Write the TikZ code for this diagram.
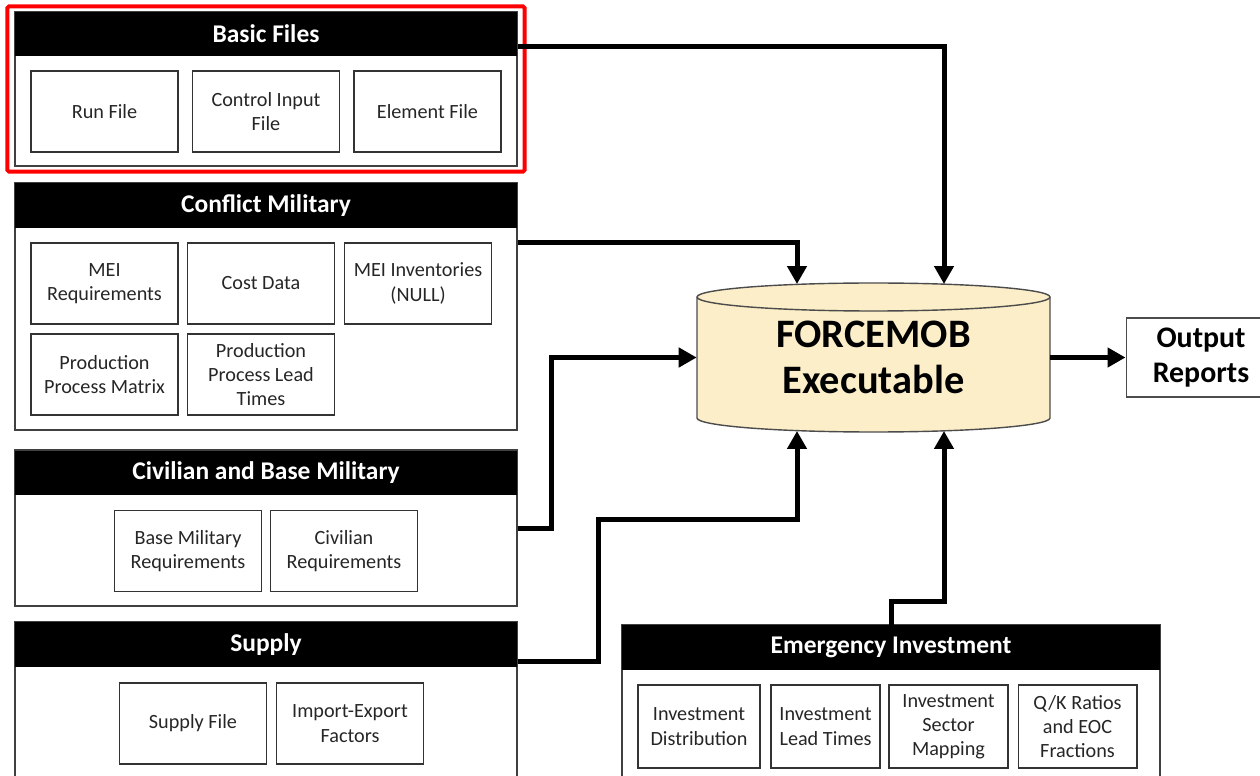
\documentclass[tikz,border=0pt]{standalone}
\usepackage{fontspec}
\setmainfont{Carlito}
\usetikzlibrary{arrows.meta}
\definecolor{cylcol}{RGB}{251,238,200}

\begin{document}
\begin{tikzpicture}[x=0.02cm,y=0.02cm,
  grp/.style={draw=black!75,line width=0.8pt,minimum width=10.04cm},
  head/.style={fill=black,text=white,minimum width=10.04cm,minimum height=0.89cm,font=\bfseries\fontsize{14.5}{17}\selectfont},
  item/.style={draw=black!80,line width=0.6pt,minimum width=2.94cm,minimum height=1.62cm,align=center,inner sep=1pt,text=black!85,font=\fontsize{11.5}{13.8}\selectfont},
  flow/.style={line width=0.1cm,-{Triangle[length=0.36cm,width=0.38cm]}}]
\useasboundingbox (0,0) rectangle (1260,-776);
\node[grp,minimum height=3.08cm] (basic) at (266,-89) {};
\node[head] (basichd) at (266,-34) {Basic Files};
\node[item] (run) at (104.5,-111.5) {Run File};
\node[item] (ctrl) at (266,-111.5) {Control Input\\File};
\node[item] (elem) at (427.5,-111.5) {Element File};
\draw[red,line width=0.08cm,rounded corners=1pt] ([shift={(-7,5)}]basic.north west) rectangle ([shift={(7,-5)}]basic.south east);
\node[grp,minimum height=4.94cm] (conf) at (266,-306.5) {};
\node[head] (confhd) at (266,-205.5) {Conflict Military};
\node[item] (meireq) at (104.5,-283.5) {MEI\\Requirements};
\node[item] (cost) at (261,-283.5) {Cost Data};
\node[item] (meiinv) at (418,-283.5) {MEI Inventories\\(NULL)};
\node[item] (ppm) at (104.5,-374.5) {Production\\Process Matrix};
\node[item] (pplt) at (261,-374.5) {Production\\Process Lead\\Times};
\node[grp,minimum height=3.12cm] (civ) at (266,-528) {};
\node[head] (civhd) at (266,-473) {Civilian and Base Military};
\node[item] (basemil) at (188,-551) {Base Military\\Requirements};
\node[item] (civreq) at (344,-551) {Civilian\\Requirements};
\node[grp,minimum height=3.56cm] (sup) at (266,-711) {};
\node[head] (suphd) at (266,-644.5) {Supply};
\node[item] (supfile) at (193,-723.5) {Supply File};
\node[item] (impexp) at (350,-723.5) {Import-Export\\Factors};
\node[grp,minimum width=10.76cm,minimum height=3.5cm] (emer) at (891,-712.5) {};
\node[head,minimum width=10.76cm] (emerhd) at (891,-647.5) {Emergency Investment};
\node[item,minimum width=2.44cm,minimum height=1.66cm] (invdist) at (699,-726.5) {Investment\\Distribution};
\node[item,minimum width=2.18cm,minimum height=1.66cm] (invlead) at (825.5,-726.5) {Investment\\Lead Times};
\node[item,minimum width=2.38cm,minimum height=1.66cm] (invsec) at (948.5,-726.5) {Investment\\Sector\\Mapping};
\node[item,minimum width=2.38cm,minimum height=1.66cm] (qk) at (1077.5,-726.5) {Q/K Ratios\\and EOC\\Fractions};
\draw[fill=cylcol,draw=black!70,line width=0.8pt] (697,-297) -- (697,-418) arc (180:360:176.5 and 14) -- (1050,-297) arc (0:180:176.5 and 14) -- cycle;
\draw[draw=black!70,line width=0.8pt] (697,-297) arc (180:360:176.5 and 14);
\node[align=center,minimum width=7.06cm,minimum height=2.96cm,font=\bfseries\fontsize{23}{26.6}\selectfont] (exe) at (873.5,-357.5) {FORCEMOB\\Executable};
\node[draw=black!70,line width=0.6pt,minimum width=3cm,minimum height=1.58cm,align=center,font=\bfseries\fontsize{17}{20.4}\selectfont] (out) at (1201,-357.5) {Output\\Reports};
\coordinate (t1) at (797,-284);
\coordinate (t2) at (944,-284);
\coordinate (b1) at (797,-431);
\coordinate (b2) at (944,-431);
\draw[flow] (basic.east |- 0,-47) -| (t2);
\draw[flow] (conf.east |- 0,-243) -| (t1);
\draw[flow] (civ.east |- 0,-528) -- (551,-528) |- (exe.west);
\draw[flow] (sup.east |- 0,-661) -- (598,-661) -- (598,-519) -| (b1);
\draw[flow] (emerhd.north) -- ++(0,23) -| (b2);
\draw[flow] (exe.east) -- (out.west);
\end{tikzpicture}
\end{document}
